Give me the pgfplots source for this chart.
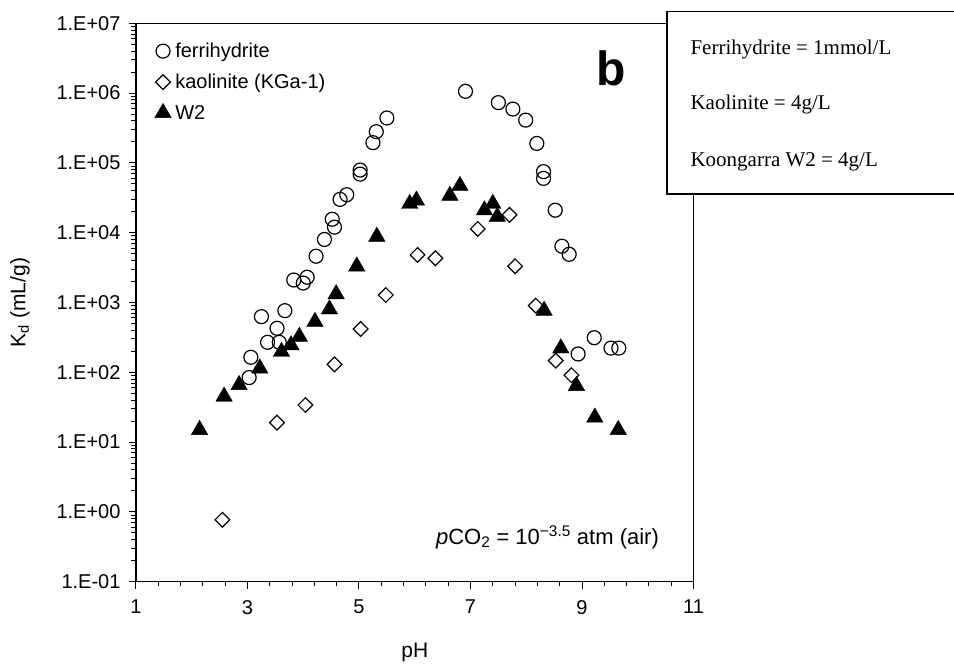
\documentclass[border=0pt]{standalone}
\usepackage{fontspec}
\setmainfont{Liberation Sans}
\newfontfamily\timesfont{Liberation Serif}
\usepackage{pgfplots}
\pgfplotsset{compat=1.18}

\begin{document}
\begin{tikzpicture}
\useasboundingbox (-136pt,-84.3pt) rectangle (818pt,581.7pt);
\begin{axis}[
  at={(0pt,0pt)}, anchor=south west,
  scale only axis, width=557.5pt, height=558.4pt,
  xmin=1, xmax=11,
  ymode=log, ymin=0.1, ymax=1e7,
  xtick={1,3,5,7,9,11}, xticklabels={1,3,5,7,9,11},
  minor x tick num=4,
  ytick={0.1,1,10,100,1000,10000,100000,1000000,10000000},
  yticklabels={1.E-01,1.E+00,1.E+01,1.E+02,1.E+03,1.E+04,1.E+05,1.E+06,1.E+07},
  tick pos=left, tick align=outside,
  major tick length=7pt, minor tick length=4.5pt,
  axis line style={line width=1.4pt},
  every tick/.style={black, line width=1pt},
  ticklabel style={font=\fontsize{20}{24}\selectfont},
  xticklabel style={yshift=-8pt},
  yticklabel style={xshift=-5pt},
  xlabel={pH}, ylabel={K\textsubscript{d} (mL/g)},
  label style={font=\fontsize{21}{25}\selectfont},
  xlabel style={at={(axis description cs:0.5,-0.126)}, anchor=center},
  ylabel style={at={(axis description cs:-0.208,0.5)}, anchor=center},
  legend cell align=left,
  legend image code/.code={\draw[mark repeat=2,mark phase=2] plot coordinates {(0pt,0pt)(7pt,0pt)(14pt,0pt)};},
  legend style={at={(axis description cs:0.028,0.972)}, anchor=north west,
    draw=none, fill=none, font=\fontsize{20}{24}\selectfont, row sep=11pt, column sep=2pt},
]
\addplot[only marks, mark=o, mark size=7pt, line width=1.2pt, black] coordinates {
  (3.03,84) (3.06,164) (3.25,627) (3.36,269) (3.53,427) (3.57,269) (3.67,764)
  (3.83,2100) (4.00,1900) (4.07,2300) (4.23,4600) (4.38,8000) (4.52,15600)
  (4.56,12000) (4.66,30000) (4.78,35000) (5.02,79000) (5.02,69000)
  (5.25,195000) (5.31,280000) (5.50,440000) (6.91,1060000) (7.50,730000)
  (7.76,590000) (7.99,410000) (8.19,190000) (8.31,75000) (8.31,60000)
  (8.52,21000) (8.64,6400) (8.77,4900) (8.93,183) (9.22,313) (9.52,222) (9.66,222)
};
\addlegendentry{ferrihydrite}
\addplot[only marks, mark=square, mark size=5.2pt, mark options={rotate=45}, line width=1.2pt, black] coordinates {
  (2.55,0.77) (3.53,19) (4.04,34) (4.56,130) (5.03,417) (5.48,1280)
  (6.05,4800) (6.37,4300) (7.13,11300) (7.70,18000) (7.80,3300) (8.17,900)
  (8.53,147) (8.81,91)
};
\addlegendentry{kaolinite (KGa-1)}
\addplot[only marks, mark=triangle*, mark size=9.5pt, black] coordinates {
  (2.14,15) (2.58,45) (2.85,66) (3.22,114) (3.61,197) (3.78,245) (3.93,324)
  (4.21,531) (4.47,800) (4.59,1320) (4.96,3300) (5.32,8800) (5.91,26000)
  (6.03,29000) (6.63,34000) (6.81,47000) (7.25,21000) (7.40,26000)
  (7.48,17000) (8.32,764) (8.62,221) (8.90,64) (9.23,22.6) (9.65,15)
};
\addlegendentry{W2}
\end{axis}
\node[anchor=base, font=\fontsize{22}{26}\selectfont] at (411.5pt,37.5pt)
  {\textit{p}CO\textsubscript{2} = 10\textsuperscript{−3.5} atm (air)};
\node[font=\bfseries\fontsize{48}{52}\selectfont] at (475pt,513.7pt) {b};
\draw[line width=1.4pt, fill=white] (531pt,570pt) rectangle (830pt,387.7pt);
\node[anchor=base west, font=\timesfont\fontsize{21}{25}\selectfont] at (551pt,526.7pt) {Ferrihydrite = 1mmol/L};
\node[anchor=base west, font=\timesfont\fontsize{21}{25}\selectfont] at (551pt,471.7pt) {Kaolinite = 4g/L};
\node[anchor=base west, font=\timesfont\fontsize{21}{25}\selectfont] at (551pt,414.7pt) {Koongarra W2 = 4g/L};
\end{tikzpicture}
\end{document}
